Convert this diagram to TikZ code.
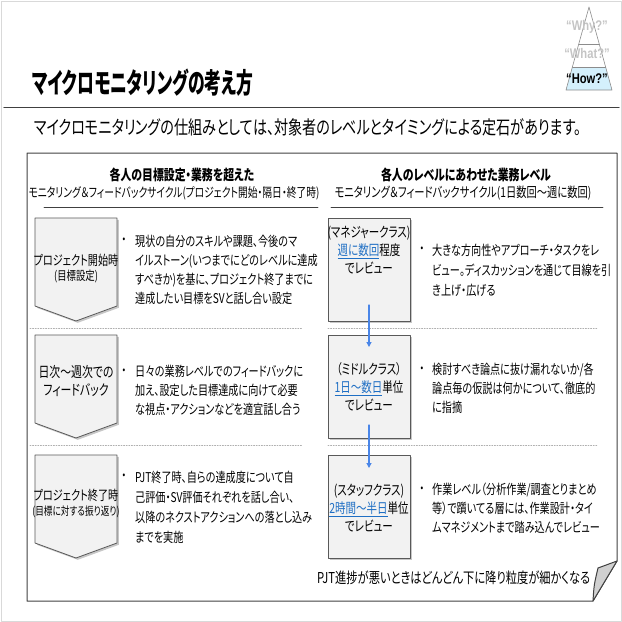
\documentclass[tikz,border=0pt]{standalone}
\usepackage{fontspec}
\setmainfont[FakeStretch=0.75,RawFeature=+palt]{Noto Sans CJK JP}
\newfontfamily\titelfont[FakeStretch=0.6,RawFeature=+palt]{Noto Sans CJK JP}
\newfontfamily\pyrfont[FakeStretch=0.8]{Liberation Sans}
\usetikzlibrary{arrows.meta,positioning,shadows}
\definecolor{fg}{RGB}{0,0,0}
\definecolor{rahmen}{RGB}{64,64,64}
\definecolor{flaeche}{RGB}{242,242,242}
\definecolor{kante}{RGB}{89,89,89}
\definecolor{punkt}{RGB}{175,175,175}
\definecolor{link}{RGB}{31,111,196}
\definecolor{blau}{RGB}{74,134,232}
\definecolor{hell}{RGB}{217,217,217}
\definecolor{himmel}{RGB}{212,240,252}
\definecolor{falte}{RGB}{208,208,208}
\definecolor{blass}{RGB}{196,196,196}
\newcommand{\fs}[2]{\fontsize{#1}{#2}\selectfont}
\newcommand{\marke}[1]{\textcolor{link}{\underline{#1}}}
\tikzset{
  every picture/.style={fg, line cap=round, line join=round, x=1pt, y=-1pt,
    >={Triangle[length=5pt,width=5pt]}},
  every node/.style={inner sep=0pt, font=\fs{13.5}{19}},
  % Linien
  linie/.style={rahmen, line width=1pt},
  trenner/.style={punkt, line width=0.8pt, dash pattern=on 1pt off 1.6pt},
  kopflinie/.style={rahmen, line width=0.9pt},
  flusspfeil/.style={blau, line width=1.1pt, ->},
  pyr/.style={black!45, line width=0.6pt},
  % Kästen
  stufe/.style={kante, line width=0.8pt, fill=flaeche,
    drop shadow={shadow xshift=1.8pt, shadow yshift=-1.8pt, fill=black, opacity=0.22}},
  % Texte
  kopf/.style={font=\bfseries\fs{14.5}{18}},
  unterkopf/.style={font=\fs{13}{18}},
  absatz/.style={anchor=west, align=left, font=\fs{13.5}{19}},
  kastentext/.style={align=center, font=\fs{14}{18}},
  marker/.style={font=\fs{13.5}{19}},
  pyrtext/.style={font=\pyrfont\bfseries\fs{14}{16}},
}
\begin{document}
\begin{tikzpicture}
  \useasboundingbox (0,0) rectangle (622,622);
  \draw[hell, line width=0.8pt] (1,1) rectangle (621,621);
  % Titel
  \node[anchor=west, font=\titelfont\bfseries\fs{28}{30}] (titel) at (32,83) {マイクロモニタリングの考え方};
  \draw[rahmen, line width=1.4pt] (4,107.5) -- (619,107.5);
  \node[anchor=west, font=\fs{18.8}{22}] (satz) at (34,127) {マイクロモニタリングの仕組みとしては、対象者のレベルとタイミングによる定石があります。};
  % Pyramide
  \fill[himmel] (572.4,67) -- (605.6,67) -- (612,90) -- (566,90) -- cycle;
  \draw[pyr] (589,7) -- (612,90) -- (566,90) -- cycle;
  \draw[pyr] (578.8,44) -- (599.2,44) (572.4,67) -- (605.6,67);
  \node[pyrtext, blass] (why) at (587,27) {“Why?”};
  \node[pyrtext, blass] (what) at (587,53) {“What?”};
  \node[pyrtext] (how) at (587,79) {“How?”};
  % Rahmen mit umgeknickter Ecke
  \draw[linie] (27,153) -- (617,153) -- (617,561) -- (593,601) -- (27,601) -- cycle;
  \filldraw[linie, fill=falte] (593,601) .. controls (594,585) .. (598,568) -- (617,561) -- cycle;
  % Spaltenköpfe
  \node[kopf] (lk1) at (182,175) {各人の目標設定・業務を超えた};
  \node[unterkopf] (lk2) at (174,193) {モニタリング＆フィードバックサイクル(プロジェクト開始・隔日・終了時)};
  \draw[kopflinie] (44,207.5) -- (318,207.5);
  \node[kopf] (rk1) at (466,175) {各人のレベルにあわせた業務レベル};
  \node[unterkopf, font=\fs{13.7}{18}] (rk2) at (463,193) {モニタリング＆フィードバックサイクル(1日数回～週に数回)};
  \draw[kopflinie] (331,207.5) -- (603,207.5);
  % Trennlinien
  \foreach \y in {328,445} {
    \draw[trenner] (30,\y) -- (302,\y);
    \draw[trenner] (328,\y) -- (597,\y);
  }
  % linke Spalte: Pfeilkästen
  \foreach \y in {218,335,455}
    \draw[stufe] (35,\y) -- (117,\y) -- (117,\y+88) -- (76,\y+103) -- (35,\y+88) -- cycle;
  \node[kastentext, font=\fs{13.5}{18}] (l1a) at (76,260) {プロジェクト開始時};
  \node[kastentext, font=\fs{12.5}{16}] (l1b) at (76,276) {(目標設定)};
  \node[kastentext, font=\fs{14.5}{18}] (l2a) at (76,372) {日次～週次での};
  \node[kastentext, font=\fs{14.5}{18}] (l2b) at (76,390) {フィードバック};
  \node[kastentext, font=\fs{13.5}{18}] (l3a) at (76,495) {プロジェクト終了時};
  \node[kastentext, font=\fs{11.5}{14}] (l3b) at (76,512) {(目標に対する振り返り)};
  % rechte Spalte: Stufen
  \foreach \y in {218,335,455}
    \draw[stufe] (328,\y) rectangle (410,\y+103);
  \node[kastentext] (r1) at (369,250) {(マネジャークラス)\\\marke{週に数回}程度\\でレビュー};
  \node[kastentext] (r2) at (369,387) {（ミドルクラス）\\\marke{1日～数日}単位\\でレビュー};
  \node[kastentext] (r3) at (369,508.5) {(スタッフクラス)\\\marke{2時間～半日}単位\\でレビュー};
  \coordinate (p1) at (369,305);
  \coordinate (p2) at (369,347);
  \coordinate (p3) at (369,425);
  \coordinate (p4) at (369,468);
  \draw[flusspfeil] (p1) -- (p2);
  \draw[flusspfeil] (p3) -- (p4);
  % Erläuterungen links
  \node[marker] (m1) at (124,241) {・};
  \node[absatz] (b1) at (135,269.5) {現状の自分のスキルや課題、今後のマ\\イルストーン(いつまでにどのレベルに達成\\すべきか)を基に、プロジェクト終了までに\\達成したい目標をSVと話し合い設定};
  \node[marker] (m2) at (124,372) {・};
  \node[absatz] (b2) at (135,390) {日々の業務レベルでのフィードバックに\\加え、設定した目標達成に向けて必要\\な視点・アクションなどを適宜話し合う};
  \node[marker] (m3) at (124,477) {・};
  \node[absatz, font=\fs{13.5}{20}] (b3) at (135,507) {PJT終了時、自らの達成度について自\\己評価・SV評価それぞれを話し合い、\\以降のネクストアクションへの落とし込み\\までを実施};
  % Erläuterungen rechts
  \node[marker] (m4) at (422,250) {・};
  \node[absatz, font=\fs{13.5}{20}] (b4) at (432,270) {大きな方向性やアプローチ・タスクをレ\\ビュー。ディスカッションを通じて目線を引\\き上げ・広げる};
  \node[marker] (m5) at (422,370) {・};
  \node[absatz] (b5) at (432,388) {検討すべき論点に抜け漏れないか/各\\論点毎の仮説は何かについて、徹底的\\に指摘};
  \node[marker] (m6) at (422,490) {・};
  \node[absatz] (b6) at (432,508.5) {作業レベル（分析作業/調査とりまとめ\\等）で躓いてる層には、作業設計・タイ\\ムマネジメントまで踏み込んでレビュー};
  % Fazit
  \node[anchor=west, font=\fs{15}{18}] (fazit) at (317,578) {PJT進捗が悪いときはどんどん下に降り粒度が細かくなる};
\end{tikzpicture}
\end{document}
